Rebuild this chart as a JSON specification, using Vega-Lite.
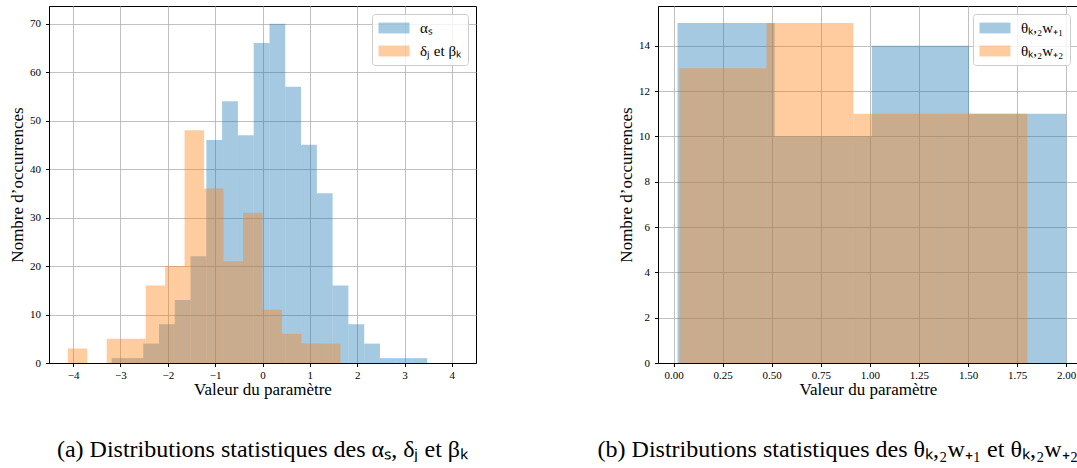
{
  "$schema": "https://vega.github.io/schema/vega-lite/v6.json",
  "background": "white",
  "padding": {"left": 8, "top": 5, "right": 0, "bottom": 0},
  "bounds": "flush",
  "spacing": 182,
  "config": {
    "font": "Liberation Serif",
    "view": {"stroke": "black", "strokeWidth": 1},
    "axis": {
      "domainColor": "black", "tickColor": "black", "labelColor": "black", "titleColor": "black",
      "gridColor": "#b0b0b0", "gridWidth": 0.8, "labelFont": "Liberation Serif", "labelFontSize": 11,
      "titleFont": "Liberation Serif", "titleFontSize": 17, "titleFontWeight": "normal",
      "tickSize": 3.5, "domainWidth": 1, "zindex": 1
    },
    "axisX": {"labelPadding": 3, "titlePadding": 1},
    "axisY": {"labelPadding": 5, "titlePadding": 3},
    "legend": {
      "orient": "top-right", "offset": 8, "fillColor": "rgba(255,255,255,0.8)", "strokeColor": "#cccccc",
      "cornerRadius": 3, "padding": 6, "symbolType": "M-2,-0.7L2,-0.7L2,0.7L-2,0.7Z", "symbolSize": 240,
      "symbolOffset": 8, "symbolOpacity": 0.4, "symbolStrokeWidth": 0, "labelFont": "Liberation Serif", "labelFontSize": 15,
      "labelColor": "black", "rowPadding": 7, "labelOffset": 18
    },
    "title": {"font": "Liberation Serif", "fontSize": 24, "fontWeight": "normal", "orient": "bottom", "offset": 40, "anchor": "middle", "color": "black"}
  },
  "datasets": {
    "h": [
      {"panel": "a", "series": "αₛ", "x0": -3.186, "x1": -2.853, "count": 1},
      {"panel": "a", "series": "αₛ", "x0": -2.853, "x1": -2.519, "count": 1},
      {"panel": "a", "series": "αₛ", "x0": -2.519, "x1": -2.186, "count": 4},
      {"panel": "a", "series": "αₛ", "x0": -2.186, "x1": -1.852, "count": 8},
      {"panel": "a", "series": "αₛ", "x0": -1.852, "x1": -1.519, "count": 13},
      {"panel": "a", "series": "αₛ", "x0": -1.519, "x1": -1.186, "count": 22},
      {"panel": "a", "series": "αₛ", "x0": -1.186, "x1": -0.853, "count": 46},
      {"panel": "a", "series": "αₛ", "x0": -0.853, "x1": -0.519, "count": 54},
      {"panel": "a", "series": "αₛ", "x0": -0.519, "x1": -0.186, "count": 47},
      {"panel": "a", "series": "αₛ", "x0": -0.186, "x1": 0.148, "count": 66},
      {"panel": "a", "series": "αₛ", "x0": 0.148, "x1": 0.481, "count": 70},
      {"panel": "a", "series": "αₛ", "x0": 0.481, "x1": 0.814, "count": 57},
      {"panel": "a", "series": "αₛ", "x0": 0.814, "x1": 1.148, "count": 45},
      {"panel": "a", "series": "αₛ", "x0": 1.148, "x1": 1.481, "count": 35},
      {"panel": "a", "series": "αₛ", "x0": 1.481, "x1": 1.814, "count": 16},
      {"panel": "a", "series": "αₛ", "x0": 1.814, "x1": 2.148, "count": 8},
      {"panel": "a", "series": "αₛ", "x0": 2.148, "x1": 2.481, "count": 4},
      {"panel": "a", "series": "αₛ", "x0": 2.481, "x1": 2.814, "count": 1},
      {"panel": "a", "series": "αₛ", "x0": 2.814, "x1": 3.148, "count": 1},
      {"panel": "a", "series": "αₛ", "x0": 3.148, "x1": 3.481, "count": 1},
      {"panel": "a", "series": "δⱼ et βₖ", "x0": -4.114, "x1": -3.703, "count": 3},
      {"panel": "a", "series": "δⱼ et βₖ", "x0": -3.703, "x1": -3.291, "count": 0},
      {"panel": "a", "series": "δⱼ et βₖ", "x0": -3.291, "x1": -2.880, "count": 5},
      {"panel": "a", "series": "δⱼ et βₖ", "x0": -2.880, "x1": -2.468, "count": 5},
      {"panel": "a", "series": "δⱼ et βₖ", "x0": -2.468, "x1": -2.057, "count": 16},
      {"panel": "a", "series": "δⱼ et βₖ", "x0": -2.057, "x1": -1.646, "count": 20},
      {"panel": "a", "series": "δⱼ et βₖ", "x0": -1.646, "x1": -1.234, "count": 48},
      {"panel": "a", "series": "δⱼ et βₖ", "x0": -1.234, "x1": -0.823, "count": 36},
      {"panel": "a", "series": "δⱼ et βₖ", "x0": -0.823, "x1": -0.411, "count": 21},
      {"panel": "a", "series": "δⱼ et βₖ", "x0": -0.411, "x1": 0.0, "count": 31},
      {"panel": "a", "series": "δⱼ et βₖ", "x0": 0.0, "x1": 0.411, "count": 11},
      {"panel": "a", "series": "δⱼ et βₖ", "x0": 0.411, "x1": 0.823, "count": 6},
      {"panel": "a", "series": "δⱼ et βₖ", "x0": 0.823, "x1": 1.234, "count": 4},
      {"panel": "a", "series": "δⱼ et βₖ", "x0": 1.234, "x1": 1.646, "count": 4},
      {"panel": "b", "series": "θₖ,₂w₊₁", "x0": 0.0203, "x1": 0.5152, "count": 15},
      {"panel": "b", "series": "θₖ,₂w₊₁", "x0": 0.5152, "x1": 1.0101, "count": 10},
      {"panel": "b", "series": "θₖ,₂w₊₁", "x0": 1.0101, "x1": 1.5051, "count": 14},
      {"panel": "b", "series": "θₖ,₂w₊₁", "x0": 1.5051, "x1": 2.0, "count": 11},
      {"panel": "b", "series": "θₖ,₂w₊₂", "x0": 0.0305, "x1": 0.4734, "count": 13},
      {"panel": "b", "series": "θₖ,₂w₊₂", "x0": 0.4734, "x1": 0.9163, "count": 15},
      {"panel": "b", "series": "θₖ,₂w₊₂", "x0": 0.9163, "x1": 1.3592, "count": 11},
      {"panel": "b", "series": "θₖ,₂w₊₂", "x0": 1.3592, "x1": 1.802, "count": 11}
    ]
  },
  "hconcat": [
    {
      "width": 427, "height": 357,
      "title": {"text": "(a) Distributions statistiques des αₛ, δⱼ et βₖ", "anchor": "middle"},
      "data": {"name": "h"},
      "transform": [{"filter": "datum.panel == 'a'"}],
      "mark": {"type": "rect", "opacity": 0.4},
      "encoding": {
        "x": {"field": "x0", "type": "quantitative", "scale": {"domain": [-4.51, 4.51], "nice": false, "zero": false},
              "axis": {"values": [-4, -3, -2, -1, 0, 1, 2, 3, 4], "format": "d", "title": "Valeur du paramètre"}},
        "x2": {"field": "x1"},
        "y": {"field": "count", "type": "quantitative", "scale": {"domain": [0, 73.65], "nice": false},
              "axis": {"values": [0, 10, 20, 30, 40, 50, 60, 70], "title": "Nombre d’occurrences"}},
        "y2": {"datum": 0},
        "color": {"field": "series", "type": "nominal",
                  "scale": {"domain": ["αₛ", "δⱼ et βₖ"], "range": ["#1f77b4", "#ff7f0e"]},
                  "legend": {"title": null}}
      }
    },
    {
      "width": 420, "height": 357,
      "title": {"text": "(b) Distributions statistiques des θₖ,₂w₊₁ et θₖ,₂w₊₂", "anchor": "end"},
      "data": {"name": "h"},
      "transform": [{"filter": "datum.panel == 'b'"}],
      "mark": {"type": "rect", "opacity": 0.4},
      "encoding": {
        "x": {"field": "x0", "type": "quantitative", "scale": {"domain": [-0.079, 2.06], "nice": false, "zero": false},
              "axis": {"values": [0, 0.25, 0.5, 0.75, 1, 1.25, 1.5, 1.75, 2], "format": ".2f", "title": "Valeur du paramètre"}},
        "x2": {"field": "x1"},
        "y": {"field": "count", "type": "quantitative", "scale": {"domain": [0, 15.75], "nice": false},
              "axis": {"values": [0, 2, 4, 6, 8, 10, 12, 14], "title": "Nombre d’occurrences"}},
        "y2": {"datum": 0},
        "color": {"field": "series", "type": "nominal",
                  "scale": {"domain": ["θₖ,₂w₊₁", "θₖ,₂w₊₂"], "range": ["#1f77b4", "#ff7f0e"]},
                  "legend": {"title": null}}
      }
    }
  ],
  "resolve": {"scale": {"color": "independent"}, "legend": {"color": "independent"}}
}
